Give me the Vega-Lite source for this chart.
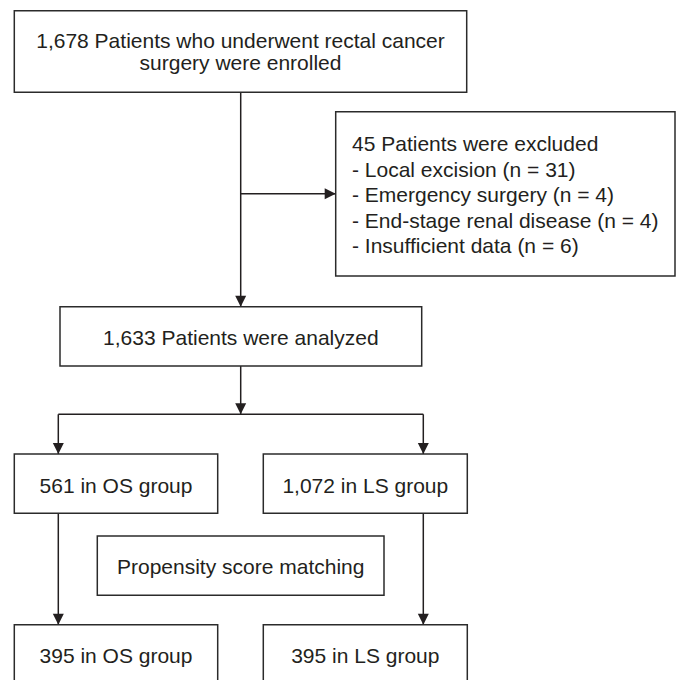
{
  "$schema": "https://vega.github.io/schema/vega-lite/v6.json",
  "width": 681,
  "height": 680,
  "padding": 0,
  "autosize": {"type": "none"},
  "background": "white",
  "config": {"view": {"stroke": null}},
  "datasets": {
    "boxes": [
      {"name": "enrolled", "x0": 14.3, "x1": 466.7, "y0": 10.7, "y1": 92.3},
      {"name": "excluded", "x0": 335.7, "x1": 675, "y0": 111.7, "y1": 276},
      {"name": "analyzed", "x0": 60, "x1": 421.7, "y0": 306.7, "y1": 366},
      {"name": "OS", "x0": 14.3, "x1": 217.7, "y0": 454, "y1": 513.3},
      {"name": "LS", "x0": 263.3, "x1": 467.3, "y0": 454, "y1": 513.3},
      {"name": "PSM", "x0": 97.3, "x1": 384, "y0": 536, "y1": 595.3},
      {"name": "OS matched", "x0": 14.3, "x1": 217.7, "y0": 624.7, "y1": 684},
      {"name": "LS matched", "x0": 263.3, "x1": 467.3, "y0": 624.7, "y1": 684}
    ],
    "links": [
      {"xa": 240.7, "ya": 92.3, "xb": 240.7, "yb": 306.7},
      {"xa": 240.7, "ya": 193.7, "xb": 335.7, "yb": 193.7},
      {"xa": 240.7, "ya": 366, "xb": 240.7, "yb": 414.3},
      {"xa": 58.3, "ya": 414.3, "xb": 423.3, "yb": 414.3},
      {"xa": 58.3, "ya": 414.3, "xb": 58.3, "yb": 454},
      {"xa": 423.3, "ya": 414.3, "xb": 423.3, "yb": 454},
      {"xa": 58.3, "ya": 513.3, "xb": 58.3, "yb": 624.7},
      {"xa": 423.3, "ya": 513.3, "xb": 423.3, "yb": 624.7}
    ],
    "heads": [
      {"x": 240.7, "y": 306.7, "dir": "down"},
      {"x": 335.7, "y": 193.7, "dir": "right"},
      {"x": 240.7, "y": 414.3, "dir": "down"},
      {"x": 58.3, "y": 454, "dir": "down"},
      {"x": 423.3, "y": 454, "dir": "down"},
      {"x": 58.3, "y": 624.7, "dir": "down"},
      {"x": 423.3, "y": 624.7, "dir": "down"}
    ],
    "centered": [
      {"x": 240.5, "y": 47.7, "label": "1,678 Patients who underwent rectal cancer"},
      {"x": 240.5, "y": 70, "label": "surgery were enrolled"},
      {"x": 240.85, "y": 345, "label": "1,633 Patients were analyzed"},
      {"x": 116, "y": 493, "label": "561 in OS group"},
      {"x": 365.3, "y": 493, "label": "1,072 in LS group"},
      {"x": 240.7, "y": 574, "label": "Propensity score matching"},
      {"x": 116, "y": 662.7, "label": "395 in OS group"},
      {"x": 365.3, "y": 662.7, "label": "395 in LS group"}
    ],
    "leftText": [
      {"x": 352, "y": 151, "label": "45 Patients were excluded"},
      {"x": 352, "y": 176.5, "label": "- Local excision (n = 31)"},
      {"x": 352, "y": 202, "label": "- Emergency surgery (n = 4)"},
      {"x": 352, "y": 227.5, "label": "- End-stage renal disease (n = 4)"},
      {"x": 352, "y": 253, "label": "- Insufficient data (n = 6)"}
    ]
  },
  "layer": [
    {
      "data": {"name": "links"},
      "mark": {"type": "rule", "color": "#231f20", "strokeWidth": 1.5},
      "encoding": {
        "x": {"field": "xa", "type": "quantitative", "scale": {"domain": [0, 681], "nice": false, "zero": false}, "axis": null},
        "y": {"field": "ya", "type": "quantitative", "scale": {"domain": [0, 680], "nice": false, "zero": false, "reverse": true}, "axis": null},
        "x2": {"field": "xb"},
        "y2": {"field": "yb"}
      }
    },
    {
      "data": {"name": "boxes"},
      "mark": {"type": "rect", "fill": "white", "stroke": "#2b2b2b", "strokeWidth": 1.5},
      "encoding": {
        "x": {"field": "x0", "type": "quantitative", "axis": null},
        "x2": {"field": "x1"},
        "y": {"field": "y0", "type": "quantitative", "axis": null},
        "y2": {"field": "y1"}
      }
    },
    {
      "data": {"name": "heads"},
      "mark": {"type": "point", "filled": true, "opacity": 1, "color": "#231f20", "size": 121, "strokeWidth": 0},
      "encoding": {
        "x": {"field": "x", "type": "quantitative", "axis": null},
        "y": {"field": "y", "type": "quantitative", "axis": null},
        "shape": {"field": "dir", "type": "nominal", "scale": {"domain": ["down", "right"], "range": ["M0,0L-1,-2L1,-2Z", "M0,0L-2,-1L-2,1Z"]}, "legend": null}
      }
    },
    {
      "data": {"name": "centered"},
      "mark": {"type": "text", "align": "center", "baseline": "alphabetic", "font": "Liberation Sans", "fontSize": 21, "color": "#231f20"},
      "encoding": {
        "x": {"field": "x", "type": "quantitative", "axis": null},
        "y": {"field": "y", "type": "quantitative", "axis": null},
        "text": {"field": "label"}
      }
    },
    {
      "data": {"name": "leftText"},
      "mark": {"type": "text", "align": "left", "baseline": "alphabetic", "font": "Liberation Sans", "fontSize": 21, "color": "#231f20"},
      "encoding": {
        "x": {"field": "x", "type": "quantitative", "axis": null},
        "y": {"field": "y", "type": "quantitative", "axis": null},
        "text": {"field": "label"}
      }
    }
  ]
}
